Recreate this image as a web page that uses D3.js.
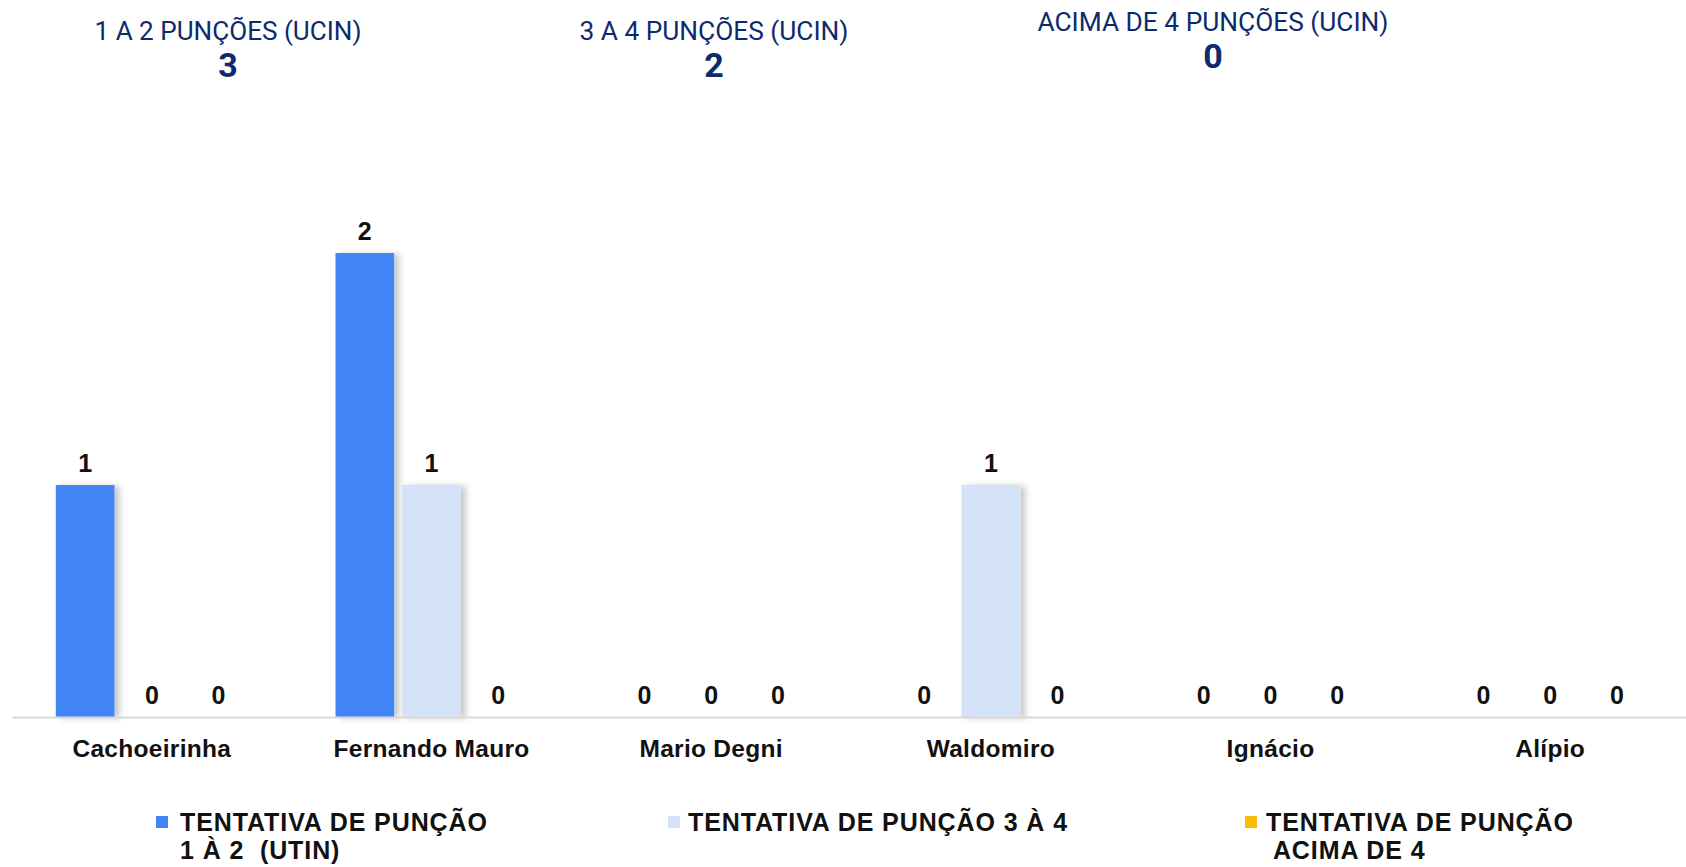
<!DOCTYPE html>
<html>
<head>
<meta charset="utf-8">
<script src="https://cdn.jsdelivr.net/npm/d3@7"></script>
<style>
  body { margin: 0; background: #fff; }
  svg { display: block; }
</style>
</head>
<body>
<div id="chart"></div>
<script>
// data
var categories = ["Cachoeirinha", "Fernando Mauro", "Mario Degni", "Waldomiro", "Ignácio", "Alípio"];
var seriesNames = ["TENTATIVA DE PUNÇÃO 1 À 2  (UTIN)", "TENTATIVA DE PUNÇÃO 3 À 4", "TENTATIVA DE PUNÇÃO ACIMA DE 4"];
var puncao1a2 = [1, 2, 0, 0, 0, 0];
var puncao3a4 = [0, 1, 0, 1, 0, 0];
var puncaoAcima4 = [0, 0, 0, 0, 0, 0];
var summaryLabels = ["1 A 2 PUNÇÕES (UCIN)", "3 A 4 PUNÇÕES (UCIN)", "ACIMA DE 4 PUNÇÕES (UCIN)"];
var summaryValues = [3, 2, 0];

var width = 1686, height = 867;
var colors = ["#4285f4", "#d5e3f8", "#fbbc04"];
var series = [puncao1a2, puncao3a4, puncaoAcima4];

var svg = d3.select('#chart').append('svg')
  .attr('width', width)
  .attr('height', height);

var defs = svg.append('defs');
defs.append('filter')
  .attr('id', 'shadow')
  .attr('x', '-20%').attr('y', '-10%')
  .attr('width', '150%').attr('height', '120%')
  .append('feDropShadow')
  .attr('dx', 5).attr('dy', 1)
  .attr('stdDeviation', 3)
  .attr('flood-color', '#000')
  .attr('flood-opacity', 0.22);

// summary header
var headX = [228, 714, 1213];
var headY = [40, 40, 31];
var headW = [267, 269, 351];
var head = svg.append('g').selectAll('g')
  .data(summaryLabels)
  .enter()
  .append('g');

head.append('text')
  .attr('x', function(d, i) { return headX[i]; })
  .attr('y', function(d, i) { return headY[i]; })
  .attr('text-anchor', 'middle')
  .attr('textLength', function(d, i) { return headW[i]; })
  .attr('lengthAdjust', 'spacingAndGlyphs')
  .style('font-family', 'Roboto, sans-serif')
  .style('font-size', '26px')
  .attr('fill', '#0d2a6c')
  .text(function(d) { return d; });

head.append('text')
  .attr('x', function(d, i) { return headX[i]; })
  .attr('y', function(d, i) { return headY[i] + 37; })
  .attr('text-anchor', 'middle')
  .style('font-family', 'Roboto, sans-serif')
  .style('font-size', '34px')
  .style('font-weight', 'bold')
  .attr('fill', '#0d2a6c')
  .text(function(d, i) { return summaryValues[i]; });

// scales
var x0 = d3.scaleBand()
  .domain(categories)
  .range([12, 1690])
  .padding(0);

var bw = x0.bandwidth();
var x1 = d3.scaleBand()
  .domain([0, 1, 2])
  .range([bw / 2 - 96, bw / 2 + 96])
  .paddingInner(0.12);

var y = d3.scaleLinear()
  .domain([0, 2])
  .range([717, 253]);

// bars
var groups = svg.append('g').selectAll('g')
  .data(categories)
  .enter()
  .append('g')
  .attr('transform', function(d) { return 'translate(' + x0(d) + ',0)'; });

var cells = groups.selectAll('g')
  .data(function(d, ci) {
    return series.map(function(s, si) { return { s: si, v: s[ci] }; });
  })
  .enter()
  .append('g');

cells.append('rect')
  .attr('x', function(d) { return x1(d.s); })
  .attr('y', function(d) { return y(d.v); })
  .attr('width', x1.bandwidth())
  .attr('height', function(d) { return y(0) - y(d.v); })
  .attr('fill', function(d) { return colors[d.s]; })
  .attr('filter', function(d) { return d.v > 0 ? 'url(#shadow)' : null; });

cells.append('text')
  .attr('x', function(d) { return x1(d.s) + x1.bandwidth() / 2; })
  .attr('y', function(d) { return y(d.v) - 13.5; })
  .attr('text-anchor', 'middle')
  .style('font-family', 'Liberation Sans, Arial, sans-serif')
  .style('font-size', '25px')
  .style('font-weight', 'bold')
  .attr('fill', '#111')
  .text(function(d) { return d.v; });

// axis
var xAxis = svg.append('g')
  .attr('transform', 'translate(0,' + y(0) + ')')
  .call(d3.axisBottom(x0).tickSize(0).tickPadding(23));

xAxis.select('.domain')
  .attr('stroke', '#d9d9d9')
  .attr('stroke-width', 2);

xAxis.selectAll('text')
  .style('font-family', 'Liberation Sans, Arial, sans-serif')
  .style('font-size', '24.5px')
  .style('font-weight', 'bold')
  .style('letter-spacing', '0.3px')
  .attr('fill', '#111');

// legend
var legMarkX = [156, 668, 1245];
var legTextX = [180, 688, 1266];
var legLines = [["TENTATIVA DE PUNÇÃO", "1 À 2  (UTIN)"], ["TENTATIVA DE PUNÇÃO 3 À 4"], ["TENTATIVA DE PUNÇÃO", " ACIMA DE 4"]];
var legend = svg.append('g').selectAll('g')
  .data(seriesNames)
  .enter()
  .append('g');

legend.append('rect')
  .attr('x', function(d, i) { return legMarkX[i]; })
  .attr('y', 816)
  .attr('width', 12)
  .attr('height', 12)
  .attr('fill', function(d, i) { return colors[i]; });

legend.append('text')
  .attr('y', 831)
  .style('font-family', 'Liberation Sans, Arial, sans-serif')
  .style('font-size', '25px')
  .style('font-weight', 'bold')
  .style('letter-spacing', '0.9px')
  .attr('fill', '#111')
  .each(function(d, i) {
    d3.select(this).selectAll('tspan')
      .data(legLines[i])
      .enter()
      .append('tspan')
      .attr('x', legTextX[i])
      .attr('dy', function(t, j) { return j === 0 ? 0 : 28; })
      .style('white-space', 'pre')
      .text(function(t) { return t; });
  });
</script>
</body>
</html>
